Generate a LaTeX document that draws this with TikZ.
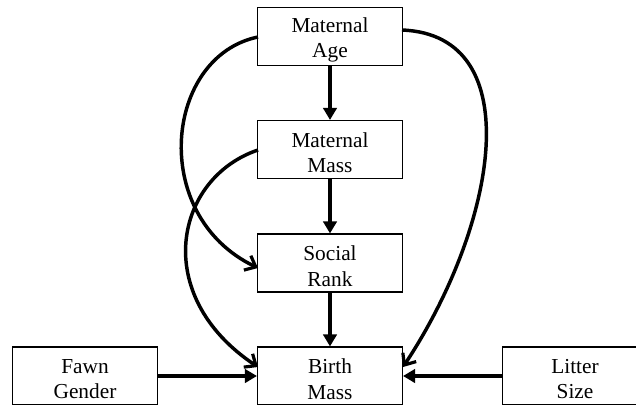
\documentclass[tikz,border=0pt]{standalone}
\usepackage{fontspec}
\setmainfont{Liberation Serif}
\usetikzlibrary{arrows.meta}
\begin{document}
\begin{tikzpicture}[x=0.75pt,y=-0.75pt,
  box/.style={draw,line width=0.8pt,minimum width=108.75pt,minimum height=43.5pt,
    inner sep=0pt,align=center,font=\fontsize{16}{19}\selectfont},
  txt/.style={align=center,inner sep=0pt,font=\fontsize{16}{19}\selectfont},
  straight/.style={line width=2.3pt,-{Triangle[length=9pt,width=10pt]}},
  curved/.style={line width=2.6pt,-{Straight Barb[length=7pt,width=12pt,line width=2.4pt]}}]
\useasboundingbox (0,0) rectangle (636,404);
\clip (0,0) rectangle (636,404);
\node[box] (age) at (330,36.5) {};
\node[box] (mass) at (330,149.5) {};
\node[box] (rank) at (330,263) {};
\node[box] (birth) at (330,376) {};
\node[box] (fawn) at (85,376) {};
\node[box] (litter) at (575,376) {};
\node[txt] (tage) at ([yshift=-2.5pt]age.center) {Maternal\\Age};
\node[txt] (tmass) at ([yshift=-2.5pt]mass.center) {Maternal\\Mass};
\node[txt] (trank) at ([yshift=-2.5pt]rank.center) {Social\\Rank};
\node[txt] (tbirth) at ([yshift=-2.5pt]birth.center) {Birth\\Mass};
\node[txt] (tfawn) at ([yshift=-2.5pt]fawn.center) {Fawn\\Gender};
\node[txt] (tlitter) at ([yshift=-2.5pt]litter.center) {Litter\\Size};
\coordinate (a1) at (258,37);
\coordinate (a2) at (402,30);
\coordinate (r1) at (258,268);
\coordinate (m1) at (258,150);
\coordinate (b1) at (258,367);
\coordinate (b2) at (403,367);
\draw[straight] (age.south) -- (mass.north);
\draw[straight] (mass.south) -- (rank.north);
\draw[straight] (rank.south) -- (birth.north);
\draw[straight] (fawn.east) -- (birth.west);
\draw[straight] (litter.west) -- (birth.east);
\draw[curved] (a1) .. controls (165,56) and (148,215) .. (r1);
\draw[curved] (m1) .. controls (175,178) and (150,295) .. (b1);
\draw[curved] (a2) .. controls (530,35) and (497,225) .. (b2);
\end{tikzpicture}
\end{document}
